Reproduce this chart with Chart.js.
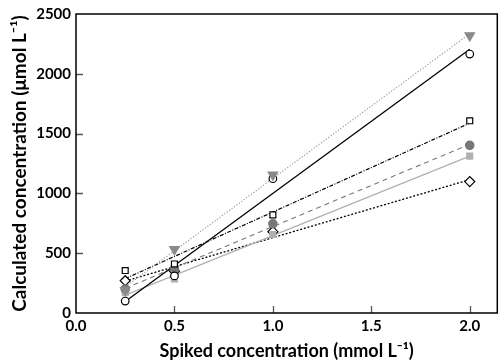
<!DOCTYPE html>
<html>
<head>
<meta charset="utf-8">
<script src="https://cdn.jsdelivr.net/npm/chart.js@4"></script>
<style>
  html, body { margin: 0; padding: 0; background: #fff; }
  #wrap { width: 504px; height: 363px; }
</style>
</head>
<body>
<div id="wrap"><canvas id="c"></canvas></div>
<script>
// spiked concentrations (mmol/L)
const spiked = [0.25, 0.5, 1.0, 2.0];

// calculated concentrations (umol/L), one list per series
const triangleVals = [190, 533, 1156, 2320];
const circleVals = [100, 310, 1123, 2165];
const squareVals = [355, 410, 820, 1607];
const grayDotVals = [200, 370, 746, 1402];
const graySquareVals = [170, 285, 656, 1312];
const diamondVals = [270, 350, 680, 1099];

const xTicks = [0, 0.5, 1.0, 1.5, 2.0];
const yTicks = [0, 500, 1000, 1500, 2000, 2500];

// least squares fit, drawn from first to last spiked value
function fitLine(xs, ys) {
    const n = xs.length;
    const mx = xs.reduce((a, b) => a + b, 0) / n;
    const my = ys.reduce((a, b) => a + b, 0) / n;
    let sxy = 0, sxx = 0;
    for (let i = 0; i < n; i++) {
        sxy += (xs[i] - mx) * (ys[i] - my);
        sxx += (xs[i] - mx) * (xs[i] - mx);
    }
    const b = sxy / sxx;
    const a = my - b * mx;
    const x0 = xs[0], x1 = xs[n - 1];
    return [{ x: x0, y: a + b * x0 }, { x: x1, y: a + b * x1 }];
}

const series = [
    { vals: triangleVals, line: "#9a9a9a", dash: [1.2, 1.8], width: 1.2,
      style: "triangle", rot: 180, r: 5.5, fill: "#8a8a8a", edge: "#8a8a8a" },
    { vals: circleVals, line: "#000", dash: [], width: 1.3,
      style: "circle", rot: 0, r: 3.8, fill: "#fff", edge: "#000" },
    { vals: squareVals, line: "#000", dash: [4, 1.5, 1, 1.5], width: 1.2,
      style: "rect", rot: 0, r: 4.2, fill: "#fff", edge: "#000" },
    { vals: grayDotVals, line: "#777", dash: [5, 4], width: 1.1,
      style: "circle", rot: 0, r: 4.2, fill: "#777", edge: "#777" },
    { vals: graySquareVals, line: "#b0b0b0", dash: [], width: 1.2,
      style: "rect", rot: 0, r: 4.2, fill: "#b0b0b0", edge: "#b0b0b0" },
    { vals: diamondVals, line: "#000", dash: [2, 1.8], width: 1.3,
      style: "rectRot", rot: 0, r: 5, fill: "#fff", edge: "#000" }
];

const datasets = [];
series.forEach(s => {
    datasets.push({
        data: fitLine(spiked, s.vals),
        showLine: true,
        borderColor: s.line,
        borderWidth: s.width,
        borderDash: s.dash,
        pointRadius: 0,
        order: 2
    });
    datasets.push({
        data: spiked.map((x, i) => ({ x: x, y: s.vals[i] })),
        showLine: false,
        pointStyle: s.style,
        pointRotation: s.rot,
        pointRadius: s.r,
        pointBackgroundColor: s.fill,
        pointBorderColor: s.edge,
        pointBorderWidth: 1.2,
        order: 1
    });
});

// inward tick marks and frame
const frame = {
    id: "frame",
    afterDraw(chart) {
        const ctx = chart.ctx;
        const a = chart.chartArea;
        const xs = chart.scales.x, ys = chart.scales.y;
        ctx.save();
        ctx.strokeStyle = "#555";
        ctx.lineWidth = 1.3;
        ctx.beginPath();
        xTicks.slice(1).forEach(v => {
            const px = Math.round(xs.getPixelForValue(v)) + 0.5;
            ctx.moveTo(px, a.bottom);
            ctx.lineTo(px, a.bottom - 7);
        });
        yTicks.slice(1, -1).forEach(v => {
            const py = Math.round(ys.getPixelForValue(v)) + 0.5;
            ctx.moveTo(a.left, py);
            ctx.lineTo(a.left + 7, py);
        });
        ctx.stroke();
        ctx.strokeStyle = "#000";
        ctx.lineWidth = 1.5;
        ctx.strokeRect(a.left, a.top, a.right - a.left, a.bottom - a.top);
        ctx.restore();
    }
};

new Chart(document.getElementById("c"), {
    type: "scatter",
    data: { datasets: datasets },
    options: {
        responsive: true,
        maintainAspectRatio: false,
        animation: false,
        layout: { padding: { top: 8, right: 3, left: 0, bottom: 0 } },
        plugins: { legend: { display: false }, tooltip: { enabled: false } },
        scales: {
            x: {
                type: "linear",
                min: 0,
                max: 2.14,
                afterBuildTicks: s => { s.ticks = xTicks.map(v => ({ value: v })); },
                afterFit: s => { s.height = 50; },
                grid: { display: false, drawTicks: false },
                border: { display: false },
                ticks: {
                    padding: 4,
                    color: "#000",
                    font: { family: "Lato", size: 15, weight: "bold" },
                    callback: v => v.toFixed(1)
                },
                title: {
                    display: true,
                    text: "Spiked concentration (mmol L\u207B\u00B9)",
                    color: "#000",
                    font: { family: "Lato", size: 18, weight: "bold" },
                    padding: { top: 0, bottom: 1 }
                }
            },
            y: {
                type: "linear",
                min: 0,
                max: 2500,
                afterBuildTicks: s => { s.ticks = yTicks.map(v => ({ value: v })); },
                afterFit: s => { s.width = 76; },
                grid: { display: false, drawTicks: false },
                border: { display: false },
                ticks: {
                    padding: 5,
                    color: "#000",
                    font: { family: "Lato", size: 15, weight: "bold" },
                    callback: v => String(v)
                },
                title: {
                    display: true,
                    text: "Calculated concentration (\u03BCmol L\u207B\u00B9)",
                    color: "#000",
                    font: { family: "Lato", size: 19, weight: "bold" },
                    padding: { top: 8, bottom: 0 }
                }
            }
        }
    },
    plugins: [frame]
});
</script>
</body>
</html>
